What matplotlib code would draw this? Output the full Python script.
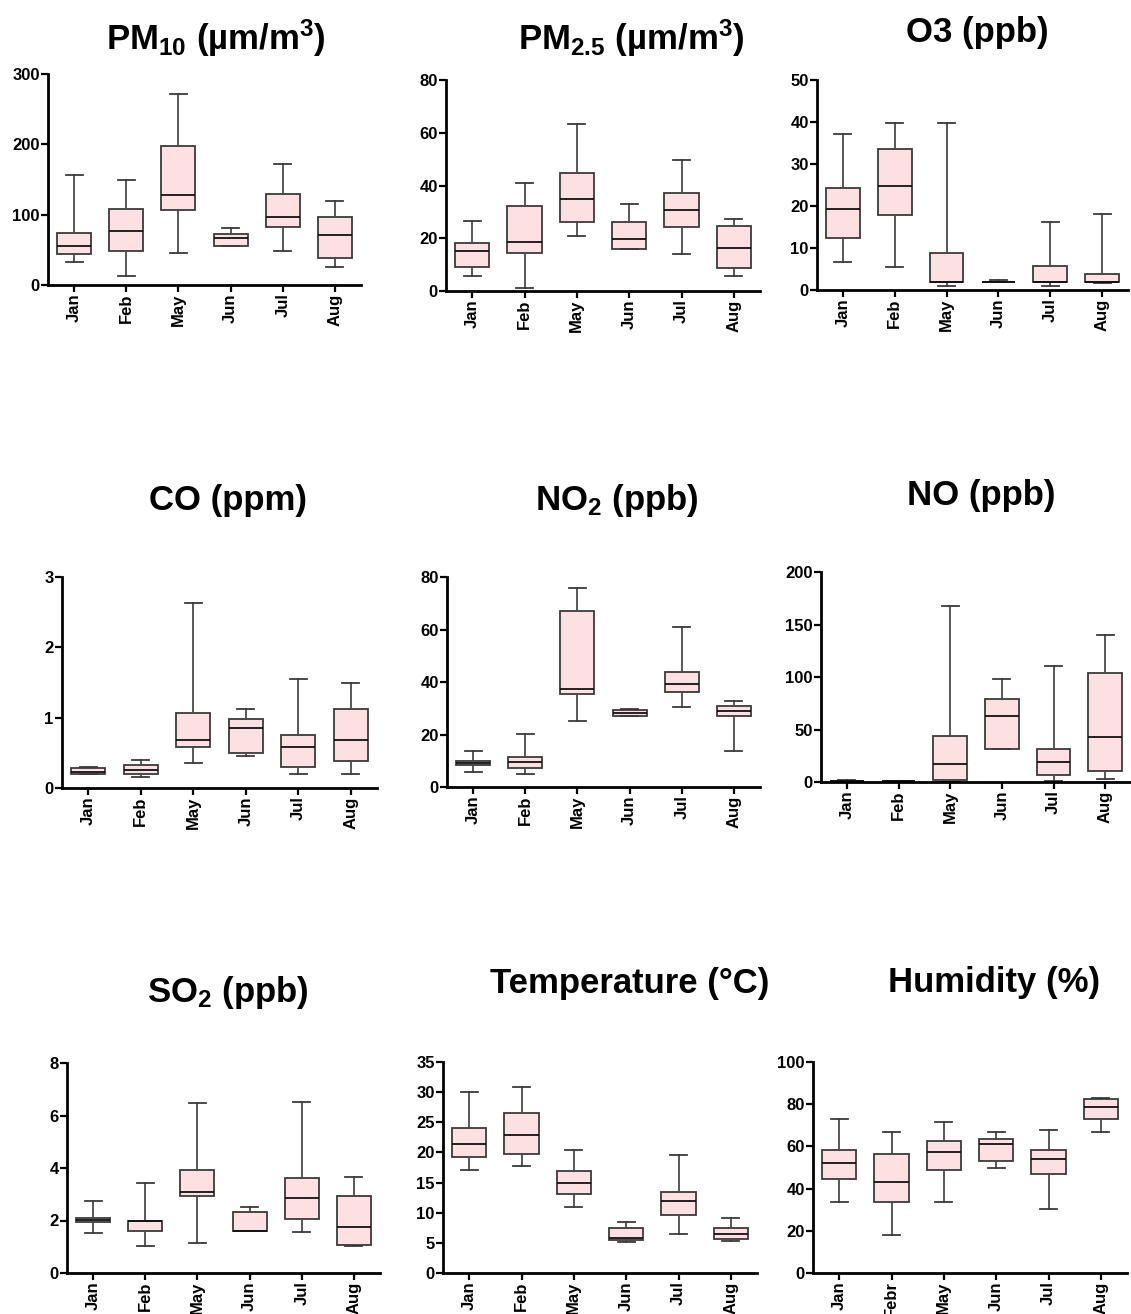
import matplotlib
matplotlib.use("Agg")
import matplotlib.pyplot as plt

plt.rcParams['font.family'] = ['Liberation Sans', 'DejaVu Sans']
plt.rcParams['font.weight'] = 'bold'
plt.rcParams['mathtext.fontset'] = 'custom'
plt.rcParams['mathtext.rm'] = 'Liberation Sans:bold'
plt.rcParams['mathtext.it'] = 'Liberation Sans:bold'
plt.rcParams['mathtext.bf'] = 'Liberation Sans:bold'

months = ["Jan", "Feb", "May", "Jun", "Jul", "Aug"]
months_hum = ["Jan", "Febr", "May", "Jun", "Jul", "Aug"]

# box stats per month: whisker low, q1, median, q3, whisker high
pm10_lo = [33, 13, 45, 55, 48, 25]
pm10_q1 = [44, 49, 106, 55, 83, 39]
pm10_med = [55, 77, 128, 67, 97, 71]
pm10_q3 = [74, 108, 197, 73, 129, 97]
pm10_hi = [157, 149, 271, 81, 172, 120]

pm25_lo = [5.6, 1.0, 21, 15.8, 14, 5.6]
pm25_q1 = [9.2, 14.5, 26.2, 15.8, 24.1, 8.7]
pm25_med = [15.2, 18.5, 34.9, 19.6, 30.8, 16.4]
pm25_q3 = [18.3, 32.2, 44.9, 26, 37.3, 24.8]
pm25_hi = [26.5, 41, 63.2, 33.1, 49.6, 27.2]

o3_lo = [6.6, 5.5, 1.0, 1.8, 1.0, 1.7]
o3_q1 = [12.5, 17.8, 2.0, 1.8, 1.8, 1.8]
o3_med = [19.3, 24.8, 2.0, 2.0, 2.0, 2.0]
o3_q3 = [24.4, 33.6, 8.7, 2.0, 5.6, 3.7]
o3_hi = [37.1, 39.8, 39.8, 2.3, 16.3, 18]

co_lo = [0.20, 0.15, 0.36, 0.46, 0.20, 0.20]
co_q1 = [0.20, 0.20, 0.59, 0.50, 0.30, 0.39]
co_med = [0.23, 0.25, 0.68, 0.85, 0.59, 0.68]
co_q3 = [0.28, 0.33, 1.07, 0.98, 0.75, 1.13]
co_hi = [0.30, 0.40, 2.63, 1.13, 1.55, 1.49]

no2_lo = [5.8, 4.9, 25.3, 27.0, 30.3, 13.6]
no2_q1 = [8.2, 7.2, 35.6, 27.0, 36.2, 27.0]
no2_med = [9.0, 9.6, 37.4, 28.3, 39.2, 28.9]
no2_q3 = [9.9, 11.4, 66.9, 29.3, 44.0, 30.8]
no2_hi = [13.6, 20.2, 75.8, 29.8, 61.1, 32.7]

no_lo = [0.3, 0.3, 0.3, 31.1, 1.0, 2.5]
no_q1 = [0.5, 0.5, 1.9, 31.1, 6.3, 10.2]
no_med = [0.8, 0.7, 17.1, 62.5, 18.7, 42.5]
no_q3 = [1.2, 1.0, 43.5, 79.4, 31.7, 104.1]
no_hi = [1.5, 1.3, 167.6, 97.8, 110.8, 139.7]

so2_lo = [1.52, 1.01, 1.15, 1.60, 1.57, 1.01]
so2_q1 = [1.93, 1.61, 2.93, 1.60, 2.05, 1.06]
so2_med = [2.02, 1.99, 3.07, 1.60, 2.86, 1.77]
so2_q3 = [2.10, 1.99, 3.94, 2.32, 3.62, 2.94]
so2_hi = [2.76, 3.43, 6.48, 2.51, 6.50, 3.65]

temp_lo = [17.1, 17.8, 10.9, 5.1, 6.5, 5.3]
temp_q1 = [19.2, 19.7, 13.1, 5.5, 9.7, 5.6]
temp_med = [21.4, 22.9, 15.0, 5.8, 12.0, 6.4]
temp_q3 = [24.1, 26.5, 16.9, 7.4, 13.4, 7.4]
temp_hi = [30.0, 30.9, 20.4, 8.5, 19.5, 9.2]

hum_lo = [33.6, 17.9, 33.8, 49.9, 30.1, 66.7]
hum_q1 = [44.5, 33.6, 49.0, 53.1, 46.9, 73.1]
hum_med = [52.1, 43.1, 57.4, 61.0, 54.2, 78.8]
hum_q3 = [58.2, 56.4, 62.4, 63.5, 58.2, 82.4]
hum_hi = [72.9, 66.6, 71.8, 66.9, 68.0, 82.9]

W, H = 1131, 1314
fig = plt.figure(figsize=(W / 100, H / 100), dpi=100)


def px_axes(x0, x1, ytop, ybot):
    return fig.add_axes([x0 / W, 1 - ybot / H, (x1 - x0) / W, (ybot - ytop) / H])


panels = [
    # title, title x, title baseline y, axes px box, data, ymax, ystep, labels
    (r'PM$_{10}$ (µm/m$^{3}$)', 216, 50, (48, 361, 74, 285),
     (pm10_lo, pm10_q1, pm10_med, pm10_q3, pm10_hi), 300, 100, months),
    (r'PM$_{2.5}$ (µm/m$^{3}$)', 631, 50, (446, 760, 80, 291),
     (pm25_lo, pm25_q1, pm25_med, pm25_q3, pm25_hi), 80, 20, months),
    ('O3 (ppb)', 977, 42, (817, 1128, 80, 290),
     (o3_lo, o3_q1, o3_med, o3_q3, o3_hi), 50, 10, months),
    ('CO (ppm)', 228, 510, (62, 377, 577, 788),
     (co_lo, co_q1, co_med, co_q3, co_hi), 3, 1, months),
    (r'NO$_{2}$ (ppb)', 617, 510, (447, 760, 577, 787),
     (no2_lo, no2_q1, no2_med, no2_q3, no2_hi), 80, 20, months),
    ('NO (ppb)', 981, 505, (821, 1131, 572, 782),
     (no_lo, no_q1, no_med, no_q3, no_hi), 200, 50, months),
    (r'SO$_{2}$ (ppb)', 228, 1002, (67, 380, 1063, 1273),
     (so2_lo, so2_q1, so2_med, so2_q3, so2_hi), 8, 2, months),
    ('Temperature (°C)', 630, 993, (443, 757, 1062, 1273),
     (temp_lo, temp_q1, temp_med, temp_q3, temp_hi), 35, 5, months),
    ('Humidity (%)', 994, 992, (813, 1127, 1062, 1273),
     (hum_lo, hum_q1, hum_med, hum_q3, hum_hi), 100, 20, months_hum),
]

for title, tx, ty, box, data, ymax, ystep, labels in panels:
    ax = px_axes(*box)
    lo, q1, med, q3, hi = data
    stats = [dict(whislo=lo[i], q1=q1[i], med=med[i], q3=q3[i], whishi=hi[i],
                  fliers=[], label=labels[i]) for i in range(len(labels))]
    ax.bxp(stats, positions=range(1, len(labels) + 1), widths=0.65,
           showfliers=False, patch_artist=True,
           boxprops=dict(facecolor='#fde0e1', edgecolor='#3a3a3a', linewidth=1.3),
           whiskerprops=dict(color='#4a4a4a', linewidth=1.3),
           capprops=dict(color='#3a3a3a', linewidth=1.3),
           medianprops=dict(color='#111111', linewidth=1.3))
    ax.set_xlim(0.5, len(labels) + 0.5)
    ax.set_ylim(0, ymax)
    ax.set_yticks([ystep * k for k in range(int(round(ymax / ystep)) + 1)])
    ax.set_xticklabels(labels, rotation=90, fontsize=12, fontweight='bold')
    ax.tick_params(axis='y', labelsize=12, length=5, width=1.6, pad=1)
    ax.tick_params(axis='x', length=5, width=1.6, pad=1)
    for lab in ax.get_yticklabels():
        lab.set_fontweight('bold')
    ax.spines['top'].set_visible(False)
    ax.spines['right'].set_visible(False)
    ax.spines['left'].set_linewidth(2.0)
    ax.spines['bottom'].set_linewidth(2.0)
    ax.patch.set_alpha(0)
    fig.text(tx / W, 1 - ty / H, title, ha='center', va='baseline',
             fontsize=25, fontweight='bold')

fig.savefig('out.png', dpi=100)
